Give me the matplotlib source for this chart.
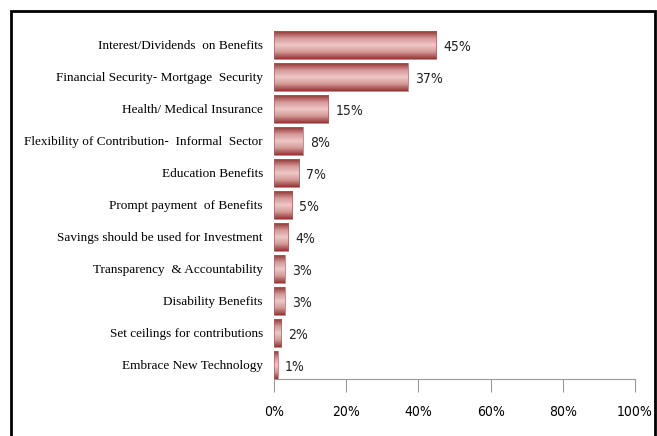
import matplotlib
matplotlib.use("Agg")
import matplotlib.pyplot as plt
import numpy as np
from matplotlib.patches import Rectangle
from matplotlib.colors import LinearSegmentedColormap

# survey answers, top to bottom
categories = ['Interest/Dividends  on Benefits', 'Financial Security- Mortgage  Security',
              'Health/ Medical Insurance', 'Flexibility of Contribution-  Informal  Sector',
              'Education Benefits', 'Prompt payment  of Benefits',
              'Savings should be used for Investment', 'Transparency  & Accountability',
              'Disability Benefits', 'Set ceilings for contributions', 'Embrace New Technology']
values = [45, 37, 15, 8, 7, 5, 4, 3, 3, 2, 1]
xticks = [0, 20, 40, 60, 80, 100]

fig = plt.figure(figsize=(6.57, 4.36), dpi=100)
ax = fig.add_axes([274/657, (436-379)/436, 361/657, (379-29)/436])

# cylinder-like shading for the bars
cmap = LinearSegmentedColormap.from_list('bar', ['#933535', '#d69898', '#f0c8c8', '#d69898', '#933535'])
grad = np.linspace(0, 1, 64).reshape(-1, 1)
h = 0.86
pos = np.arange(len(values))
for y, v in zip(pos, values):
    ax.imshow(grad, cmap=cmap, aspect='auto', extent=[0, v, y + h/2, y - h/2], zorder=2)
    ax.add_patch(Rectangle((0, y - h/2), v, h, fill=False, ec='#a86060', lw=0.5, zorder=3))
    ax.text(v + 2, y + 0.05, f'{v}%', va='center', ha='left', fontsize=10,
            family='DejaVu Sans', fontstretch='condensed', color='#222222')

ax.set_xlim(0, 100)
ax.set_ylim(len(values) - 0.56, -0.5)
ax.set_yticks(pos)
ax.set_yticklabels(categories, family='Liberation Serif', fontsize=9.5)
ax.set_xticks(xticks)
ax.set_xticklabels([f'{t}%' for t in xticks], family='DejaVu Sans', fontstretch='condensed',
                   fontsize=10)
ax.tick_params(axis='y', length=0, pad=8)
ax.tick_params(axis='x', length=9, direction='out', color='#999999', pad=10)
for s in ['top', 'right', 'left']:
    ax.spines[s].set_visible(False)
ax.spines['bottom'].set_color('#999999')

# outer frame of the chart
fig.patches.append(Rectangle((11/657, -0.05), 644/657, 1.05 - 11/436, transform=fig.transFigure,
                             fill=False, ec='black', lw=2))

fig.savefig('out.png', dpi=100)
